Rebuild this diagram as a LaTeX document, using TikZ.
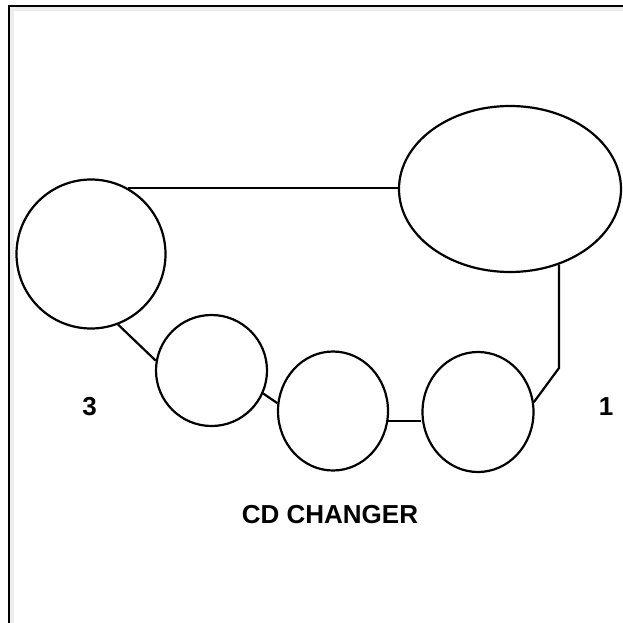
\documentclass[tikz,border=0pt]{standalone}
\usepackage{fontspec}
\setmainfont{Liberation Sans}
\usetikzlibrary{shapes.geometric}
\begin{document}
\begin{tikzpicture}[x=1pt,y=-1pt,
  disc/.style={draw=black,line width=2.2pt,ellipse,inner sep=0pt,fill=white},
  link/.style={draw=black,line width=2.2pt},
  lab/.style={font=\fontsize{26}{30}\selectfont\bfseries,anchor=base,inner sep=0pt}]
\useasboundingbox (0,0) rectangle (623,623);
% frame
\draw[line width=4pt,color=black!7] (12,623) -- (12,9) -- (623,9);
\draw[line width=2.4pt] (9,623) -- (9,6) -- (623,6);
% discs
\node[disc,minimum width=149pt,minimum height=149pt] (L) at (91,254) {};
\node[disc,minimum width=222pt,minimum height=166pt] (E) at (510,189) {};
\node[disc,minimum width=111pt,minimum height=111pt] (C2) at (211.5,370.5) {};
\node[disc,minimum width=110pt,minimum height=119pt] (C3) at (333,411) {};
\node[disc,minimum width=111pt,minimum height=120pt] (C4) at (478,412) {};
% connectors
\coordinate (bend) at (559,368);
\draw[link] (L.61) -- (L.61 -| E.west);
\draw[link] (L.-69) -- (C2.170);
\draw[link] (C2.-24) -- (C3.172);
\draw[link] (C3.-10) -- (C3.-10 -| C4.west);
\draw[link] (C4.10) -- (bend) -- (bend |- E.-57);
% labels
\node[lab] (t3) at (89.5,415) {3};
\node[lab] (t1) at (606,415) {1};
\node[lab] (tcd) at (330,523) {CD CHANGER};
\end{tikzpicture}
\end{document}
